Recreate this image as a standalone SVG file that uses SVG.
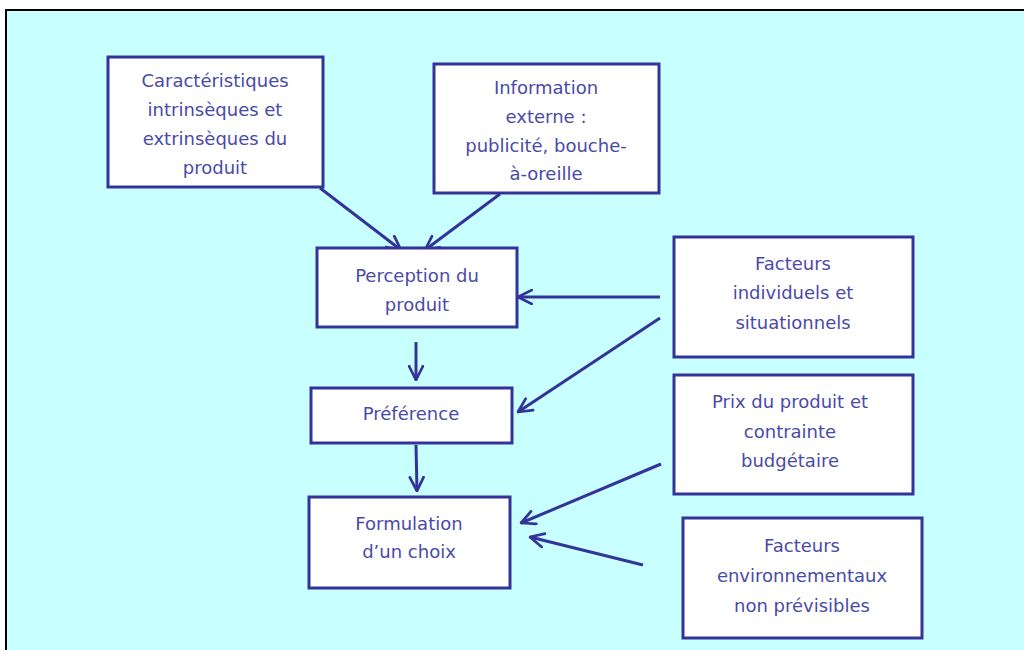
<svg xmlns="http://www.w3.org/2000/svg" width="1024" height="650" viewBox="0 0 1024 650">
  <style>
    .box { fill: #ffffff; stroke: #33339a; stroke-width: 3; }
    .lbl { font-family: "DejaVu Sans", "Liberation Sans", sans-serif; font-size: 18px; fill: #4a4aa8; text-anchor: middle; }
    .conn { stroke: #33339a; stroke-width: 3; fill: none; marker-end: url(#head); }
  </style>
  <defs>
    <marker id="head" viewBox="0 0 12 12" refX="11" refY="6" markerWidth="5.5" markerHeight="5.5" orient="auto" markerUnits="strokeWidth">
      <path d="M1,1 L11,6 L1,11" fill="none" stroke="#33339a" stroke-width="2" stroke-linecap="round" stroke-linejoin="round"/>
    </marker>
  </defs>

  <!-- page and frame -->
  <rect x="0" y="0" width="1024" height="650" fill="#ffffff"/>
  <rect x="6" y="10" width="1030" height="650" fill="#c8ffff" stroke="#000000" stroke-width="2"/>

  <!-- connectors -->
  <g id="connectors">
    <line class="conn" x1="320" y1="188" x2="401" y2="250"/>
    <line class="conn" x1="500" y1="194" x2="425" y2="250"/>
    <line class="conn" x1="660" y1="297" x2="518" y2="297"/>
    <line class="conn" x1="660" y1="318" x2="518" y2="412"/>
    <line class="conn" x1="416" y1="342" x2="416" y2="380"/>
    <line class="conn" x1="416" y1="445" x2="417" y2="491"/>
    <line class="conn" x1="661" y1="464" x2="521" y2="523"/>
    <line class="conn" x1="643" y1="565" x2="530" y2="537"/>
  </g>

  <g id="caracteristiques">
    <rect class="box" x="108" y="57" width="215" height="130"/>
    <text class="lbl" x="215" y="87">Caractéristiques</text>
    <text class="lbl" x="215" y="116">intrinsèques et</text>
    <text class="lbl" x="215" y="145">extrinsèques du</text>
    <text class="lbl" x="215" y="174">produit</text>
  </g>

  <g id="information">
    <rect class="box" x="434" y="64" width="225" height="129"/>
    <text class="lbl" x="546" y="94">Information</text>
    <text class="lbl" x="546" y="123">externe :</text>
    <text class="lbl" x="546" y="152">publicité, bouche-</text>
    <text class="lbl" x="546" y="180">à-oreille</text>
  </g>

  <g id="perception">
    <rect class="box" x="317" y="248" width="200" height="79"/>
    <text class="lbl" x="417" y="282">Perception du</text>
    <text class="lbl" x="417" y="311">produit</text>
  </g>

  <g id="facteurs-individuels">
    <rect class="box" x="674" y="237" width="239" height="120"/>
    <text class="lbl" x="793" y="270">Facteurs</text>
    <text class="lbl" x="793" y="299">individuels et</text>
    <text class="lbl" x="793" y="329">situationnels</text>
  </g>

  <g id="preference">
    <rect class="box" x="311" y="388" width="201" height="55"/>
    <text class="lbl" x="411" y="420">Préférence</text>
  </g>

  <g id="prix">
    <rect class="box" x="674" y="375" width="239" height="119"/>
    <text class="lbl" x="790" y="408">Prix du produit et</text>
    <text class="lbl" x="790" y="438">contrainte</text>
    <text class="lbl" x="790" y="467">budgétaire</text>
  </g>

  <g id="formulation">
    <rect class="box" x="309" y="497" width="201" height="91"/>
    <text class="lbl" x="409" y="530">Formulation</text>
    <text class="lbl" x="409" y="558">d’un choix</text>
  </g>

  <g id="facteurs-environnementaux">
    <rect class="box" x="683" y="518" width="239" height="120"/>
    <text class="lbl" x="802" y="552">Facteurs</text>
    <text class="lbl" x="802" y="582">environnementaux</text>
    <text class="lbl" x="802" y="612">non prévisibles</text>
  </g>
</svg>
